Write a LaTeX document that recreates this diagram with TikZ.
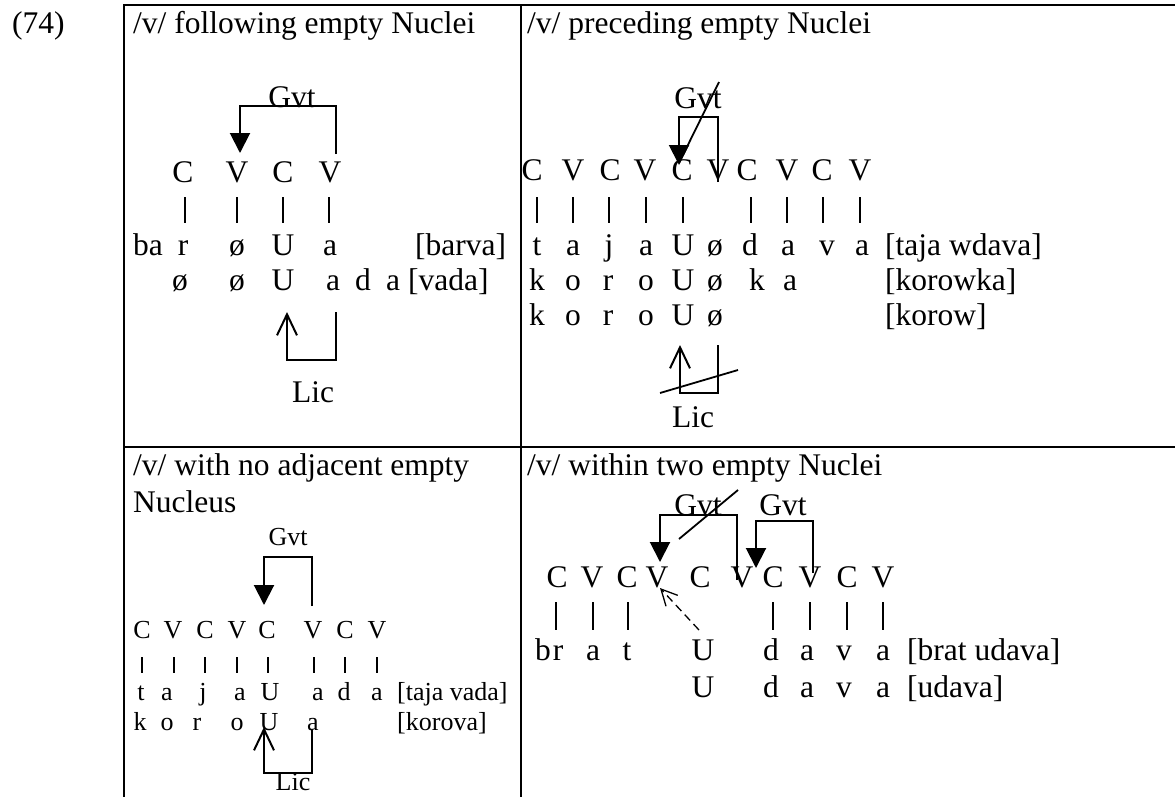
\documentclass[tikz,border=0pt]{standalone}
\usepackage{fontspec}
\setmainfont{Liberation Serif}
\usetikzlibrary{arrows.meta}

\tikzset{
  big/.style={font=\fontsize{31.5}{37}\selectfont, inner sep=0pt, anchor=base},
  bigw/.style={big, anchor=base west},
  small/.style={font=\fontsize{26}{31}\selectfont, inner sep=0pt, anchor=base},
  smallw/.style={small, anchor=base west},
  rule/.style={line width=2.5pt},
  assoc/.style={line width=1.3pt},
  gvtarrow/.style={line width=2pt, -{Triangle[length=20pt,width=20pt]}},
  licarrow/.style={line width=2pt, -{Straight Barb[length=21pt,width=20pt]}},
  strike/.style={line width=1.8pt},
  dasharrow/.style={line width=1.3pt, dash pattern=on 8pt off 5pt, -{Straight Barb[length=16pt,width=16pt]}}
}

% place a row of centred symbols on one baseline: \symrow{style}{prefix}{y}{x1/t1,x2/t2,...}
\newcommand{\symrow}[4]{%
  \foreach \xx/\tt [count=\ii] in {#4} {\node[#1] (#2\ii) at (\xx,#3) {\tt};}}
% association bars: \barrow{prefix}{ytop}{ybot}{x1,x2,...}
\newcommand{\barrow}[4]{%
  \foreach \xx [count=\ii] in {#4} {
    \coordinate (#1t\ii) at (\xx,#2); \coordinate (#1b\ii) at (\xx,#3);
    \draw[assoc] (#1t\ii) -- (#1b\ii);}}

\begin{document}
\begin{tikzpicture}[x=1pt,y=-1pt]
\useasboundingbox (0,0) rectangle (1175,796);

% ---- table frame ----
\coordinate (tl) at (124,5);   \coordinate (tr) at (1176,5);
\coordinate (bl) at (124,797); \coordinate (tm) at (521,5);
\coordinate (bm) at (521,797); \coordinate (ml) at (124,447);
\coordinate (mr) at (1176,447);
\draw[rule] (tr) -- (tl) -- (bl);
\draw[rule] (tm) -- (bm);
\draw[rule] (ml) -- (mr);

\node[bigw] (num) at (12,33) {(74)};

% ================= panel 1 =================
\node[bigw] (t1) at (133,33) {/v/ following empty Nuclei};
\node[big] (g1) at (292,107) {Gvt};
\coordinate (g1s) at (336,154); \coordinate (g1a) at (336,106);
\coordinate (g1b) at (240,106); \coordinate (g1e) at (240,153);
\draw[gvtarrow] (g1s) -- (g1a) -- (g1b) -- (g1e);
\symrow{big}{p1cv}{182}{183/C,237/V,283/C,330/V}
\barrow{p1}{197}{223}{185,237,283,329}
\node[bigw] (p1ba) at (133,255) {ba};
\symrow{big}{p1r}{255}{183/r,237/ø,283/U,330/a}
\node[bigw] (p1l1) at (415,255) {[barva]};
\symrow{big}{p1s}{290}{180/ø,237/ø,283/U,333/a,363/d,393/a}
\node[bigw] (p1l2) at (408,290) {[vada]};
\coordinate (l1s) at (336,312); \coordinate (l1a) at (336,360);
\coordinate (l1b) at (287,360); \coordinate (l1e) at (287,312);
\draw[licarrow] (l1s) -- (l1a) -- (l1b) -- (l1e);
\node[big] (lic1) at (313,402) {Lic};

% ================= panel 2 =================
\node[bigw] (t2) at (527,33) {/v/ preceding empty Nuclei};
\node[big] (g2) at (698,108) {Gvt};
\coordinate (g2s) at (718,182); \coordinate (g2a) at (718,117);
\coordinate (g2b) at (679,117); \coordinate (g2e) at (679,165);
\draw[gvtarrow] (g2s) -- (g2a) -- (g2b) -- (g2e);
\coordinate (x2a) at (719,82); \coordinate (x2b) at (679,163);
\draw[strike] (x2a) -- (x2b);
\symrow{big}{p2cv}{180}{532/C,573/V,610/C,645/V,682/C,718/V,747/C,787/V,822/C,860/V}
\barrow{p2}{197}{223}{537,573,609,646,683,751,787,823,860}
\symrow{big}{p2r}{255}{537/t,573/a,609/j,646/a,683/U,715/ø,750/d,788/a,827/v,862/a}
\node[bigw] (p2l1) at (885,255) {[taja wdava]};
\symrow{big}{p2s}{290}{537/k,573/o,608/r,646/o,683/U,715/ø,757/k,790/a}
\node[bigw] (p2l2) at (885,290) {[korowka]};
\symrow{big}{p2u}{325}{537/k,573/o,608/r,646/o,683/U,715/ø}
\node[bigw] (p2l3) at (885,325) {[korow]};
\coordinate (l2s) at (718,345); \coordinate (l2a) at (718,393);
\coordinate (l2b) at (680,393); \coordinate (l2e) at (680,345);
\draw[licarrow] (l2s) -- (l2a) -- (l2b) -- (l2e);
\coordinate (y2a) at (660,393); \coordinate (y2b) at (738,370);
\draw[strike] (y2a) -- (y2b);
\node[big] (lic2) at (693,427) {Lic};

% ================= panel 3 =================
\node[bigw] (t3a) at (133,475) {/v/ with no adjacent empty};
\node[bigw] (t3b) at (133,512) {Nucleus};
\node[small] (g3) at (288,545) {Gvt};
\coordinate (g3s) at (312,606); \coordinate (g3a) at (312,557);
\coordinate (g3b) at (264,557); \coordinate (g3e) at (264,605);
\draw[gvtarrow] (g3s) -- (g3a) -- (g3b) -- (g3e);
\symrow{small}{p3cv}{638}{142/C,173/V,205/C,237/V,267/C,313/V,345/C,377/V}
\barrow{p3}{657}{673}{142,174,205,237,268,314,345,377}
\symrow{small}{p3r}{700}{141/t,167/a,203/j,240/a,270/U,318/a,344/d,377/a}
\node[smallw] (p3l1) at (397,700) {[taja vada]};
\symrow{small}{p3s}{730}{140/k,167/o,197/r,237/o,269/U,313/a}
\node[smallw] (p3l2) at (397,730) {[korova]};
\coordinate (l3s) at (312,730); \coordinate (l3a) at (312,773);
\coordinate (l3b) at (264,773); \coordinate (l3e) at (264,727);
\draw[licarrow] (l3s) -- (l3a) -- (l3b) -- (l3e);
\node[small] (lic3) at (293,790) {Lic};

% ================= panel 4 =================
\node[bigw] (t4) at (527,475) {/v/ within two empty Nuclei};
\node[big] (g4a) at (698,515) {Gvt};
\node[big] (g4b) at (783,515) {Gvt};
\coordinate (g4s) at (737,580); \coordinate (g4p) at (737,515);
\coordinate (g4q) at (660,515); \coordinate (g4e) at (660,562);
\draw[gvtarrow] (g4s) -- (g4p) -- (g4q) -- (g4e);
\coordinate (x4a) at (738,490); \coordinate (x4b) at (679,539);
\draw[strike] (x4a) -- (x4b);
\coordinate (h4s) at (813,573); \coordinate (h4p) at (813,521);
\coordinate (h4q) at (756,521); \coordinate (h4e) at (756,568);
\draw[gvtarrow] (h4s) -- (h4p) -- (h4q) -- (h4e);
\symrow{big}{p4cv}{587}{557/C,592/V,627/C,657/V,700/C,742/V,773/C,810/V,847/C,883/V}
\barrow{p4}{602}{630}{556,593,628,773,810,847,883}
\coordinate (d4s) at (699,630); \coordinate (d4e) at (660,588);
\draw[dasharrow] (d4s) -- (d4e);
\node[bigw] (p4b) at (535,660) {b};
\symrow{big}{p4r}{660}{558/r,593/a,627/t,703/U,771/d,807/a,844/v,883/a}
\node[bigw] (p4l1) at (907,660) {[brat udava]};
\symrow{big}{p4s}{697}{703/U,771/d,807/a,844/v,883/a}
\node[bigw] (p4l2) at (907,697) {[udava]};

\end{tikzpicture}
\end{document}
